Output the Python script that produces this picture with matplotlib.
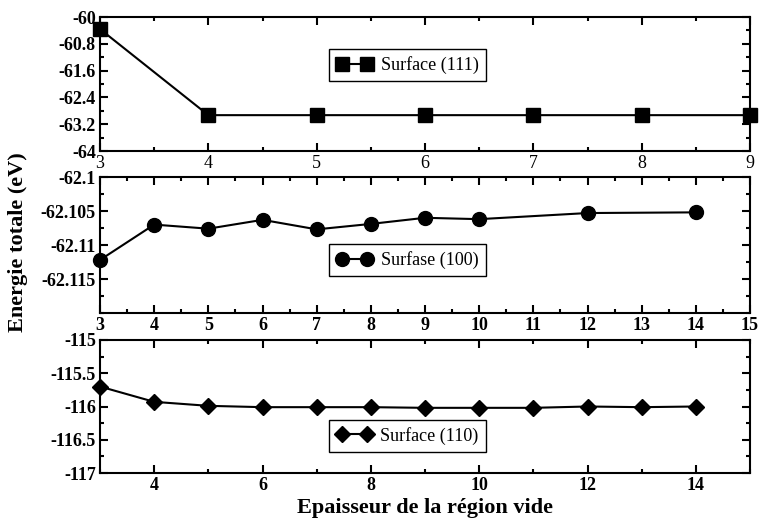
import numpy as np
import matplotlib.pyplot as plt
from matplotlib.ticker import MultipleLocator, FixedLocator

# Surface (111)
x111 = [3, 4, 5, 6, 7, 8, 9]
e111 = [-60.36, -62.93, -62.93, -62.93, -62.93, -62.93, -62.93]

# Surfase (100)
x100 = [3, 4, 5, 6, 7, 8, 9, 10, 12, 14]
e100 = [-62.1122, -62.1070, -62.1076, -62.1063, -62.1077, -62.1069,
        -62.1060, -62.1062, -62.1053, -62.1052]

# Surface (110)
x110 = [3, 4, 5, 6, 7, 8, 9, 10, 11, 12, 13, 14]
e110 = [-115.70, -115.93, -115.99, -116.01, -116.01, -116.01,
        -116.02, -116.02, -116.02, -116.00, -116.01, -116.00]

plt.rcParams['font.family'] = 'Liberation Serif'

fig = plt.figure(figsize=(7.61, 5.22), dpi=100)
W = 650 / 761
L = 100 / 761
ax1 = fig.add_axes([L, 1 - 151 / 522, W, 134 / 522])
ax2 = fig.add_axes([L, 1 - 313 / 522, W, 136 / 522])
ax3 = fig.add_axes([L, 1 - 473 / 522, W, 133 / 522])

ax1.plot(x111, e111, 'k-', marker='s', ms=9.5, lw=1.5, label='Surface (111)', clip_on=False)
ax2.plot(x100, e100, 'k-', marker='o', ms=10, lw=1.5, label='Surfase (100)', clip_on=False)
ax3.plot(x110, e110, 'k-', marker='D', ms=8.5, lw=1.5, label='Surface (110)', clip_on=False)

ax1.set_xlim(3, 9)
ax1.set_ylim(-64, -60)
ax1.xaxis.set_major_locator(MultipleLocator(1))
ax1.xaxis.set_minor_locator(MultipleLocator(0.5))
ax1.set_yticks([-64, -63.2, -62.4, -61.6, -60.8, -60])
ax1.set_yticklabels(['-64', '-63.2', '-62.4', '-61.6', '-60.8', '-60'])
ax1.yaxis.set_minor_locator(MultipleLocator(0.4))

ax2.set_xlim(3, 15)
ax2.set_ylim(-62.12, -62.1)
ax2.xaxis.set_major_locator(MultipleLocator(1))
ax2.xaxis.set_minor_locator(MultipleLocator(0.5))
ax2.set_yticks([-62.115, -62.11, -62.105, -62.1])
ax2.set_yticklabels(['-62.115', '-62.11', '-62.105', '-62.1'])
ax2.yaxis.set_minor_locator(MultipleLocator(0.0025))

ax3.set_xlim(3, 15)
ax3.set_ylim(-117, -115)
ax3.set_xticks([4, 6, 8, 10, 12, 14])
ax3.xaxis.set_minor_locator(FixedLocator([3, 5, 7, 9, 11, 13, 15]))
ax3.set_yticks([-117, -116.5, -116, -115.5, -115])
ax3.set_yticklabels(['-117', '-116.5', '-116', '-115.5', '-115'])
ax3.yaxis.set_minor_locator(MultipleLocator(0.25))

for ax in (ax1, ax2, ax3):
    for s in ax.spines.values():
        s.set_linewidth(1.5)
    ax.tick_params(which='both', direction='in', top=True, right=True,
                   width=1.5, labelsize=13, pad=3)
    ax.tick_params(which='major', length=5.5)
    ax.tick_params(which='minor', length=3)
    for lab in ax.get_yticklabels():
        lab.set_fontweight('bold')

for ax in (ax2, ax3):
    for lab in ax.get_xticklabels():
        lab.set_fontweight('bold')

legend_pos = [(ax1, 0.64), (ax2, 0.39), (ax3, 0.28)]
for ax, yc in legend_pos:
    leg = ax.legend(loc='center', bbox_to_anchor=(0.473, yc), fontsize=13,
                    fancybox=False, framealpha=1, edgecolor='black',
                    numpoints=2, handlelength=2.0, borderpad=0.4,
                    handletextpad=0.45, borderaxespad=0)
    leg.get_frame().set_linewidth(1.0)

fig.text(0.024, 0.536, 'Energie totale (eV)', rotation=90, ha='center', va='center',
         fontsize=16, fontweight='bold')
fig.text(0.558, 0.027, 'Epaisseur de la région vide', ha='center', va='center',
         fontsize=16, fontweight='bold')

fig.savefig('out.png', dpi=100)
